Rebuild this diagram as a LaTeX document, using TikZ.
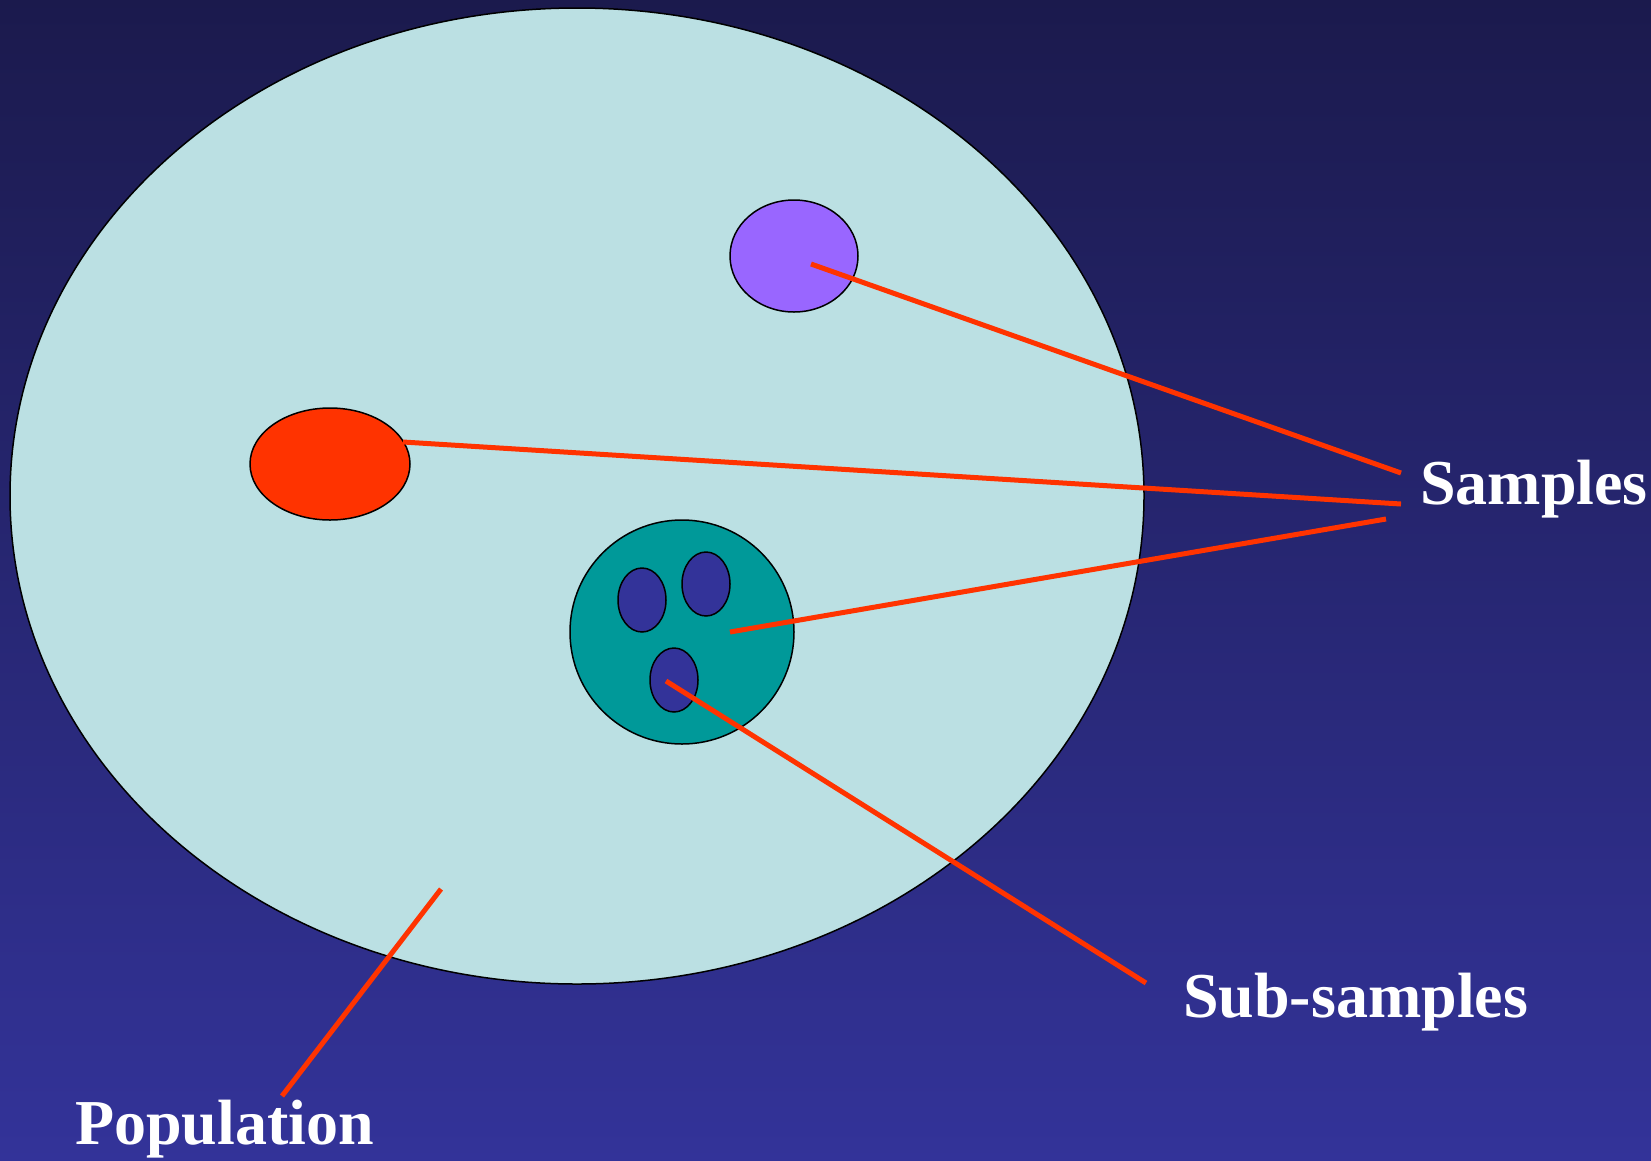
\documentclass[tikz,border=0pt]{standalone}
\usepackage{fontspec}
\setmainfont{Liberation Serif}
\definecolor{bgtop}{HTML}{1B1A4D}
\definecolor{bgbot}{HTML}{333399}
\definecolor{pop}{HTML}{BBE0E3}
\definecolor{purp}{HTML}{9966FF}
\definecolor{redf}{HTML}{FF3300}
\definecolor{tealf}{HTML}{009999}
\definecolor{subf}{HTML}{333399}
\tikzset{
  blob/.style={draw=black, line width=1.5pt},
  leader/.style={draw=redf, line width=5pt},
  lbl/.style={text=white, font=\fontsize{64}{70}\selectfont\bfseries, inner sep=0pt, anchor=base west}
}
\begin{document}
\begin{tikzpicture}[x=1pt,y=-1pt]
\shade[top color=bgtop, bottom color=bgbot] (0,0) rectangle (1651,1160);
\useasboundingbox (0,0) rectangle (1651,1160);
\draw[blob, fill=pop] (577,496) ellipse [x radius=567, y radius=488];
\draw[blob, fill=purp] (794,256) ellipse [x radius=64, y radius=56];
\draw[blob, fill=redf] (330,464) ellipse [x radius=80, y radius=56];
\draw[blob, fill=tealf] (682,632) circle [radius=112];
\draw[blob, fill=subf] (642,600) ellipse [x radius=24, y radius=32];
\draw[blob, fill=subf] (706,584) ellipse [x radius=24, y radius=32];
\draw[blob, fill=subf] (674,680) ellipse [x radius=24, y radius=32];
\node[lbl] (samples) at (1420,504) {Samples};
\node[lbl] (subsamples) at (1183,1017) {Sub-samples};
\node[lbl] (population) at (75,1144) {Population};
\coordinate (s1) at (1401,473);
\coordinate (s2) at (1401,504);
\coordinate (s3) at (1386,519);
\coordinate (ss) at (1146,983);
\coordinate (pp) at (282,1096);
\coordinate (a1) at (811,264);
\coordinate (a2) at (403,442);
\coordinate (a3) at (730,632);
\coordinate (a4) at (666,681);
\coordinate (a5) at (441,889);
\draw[leader] (a1) -- (s1);
\draw[leader] (a2) -- (s2);
\draw[leader] (a3) -- (s3);
\draw[leader] (a4) -- (ss);
\draw[leader] (a5) -- (pp);
\end{tikzpicture}
\end{document}
